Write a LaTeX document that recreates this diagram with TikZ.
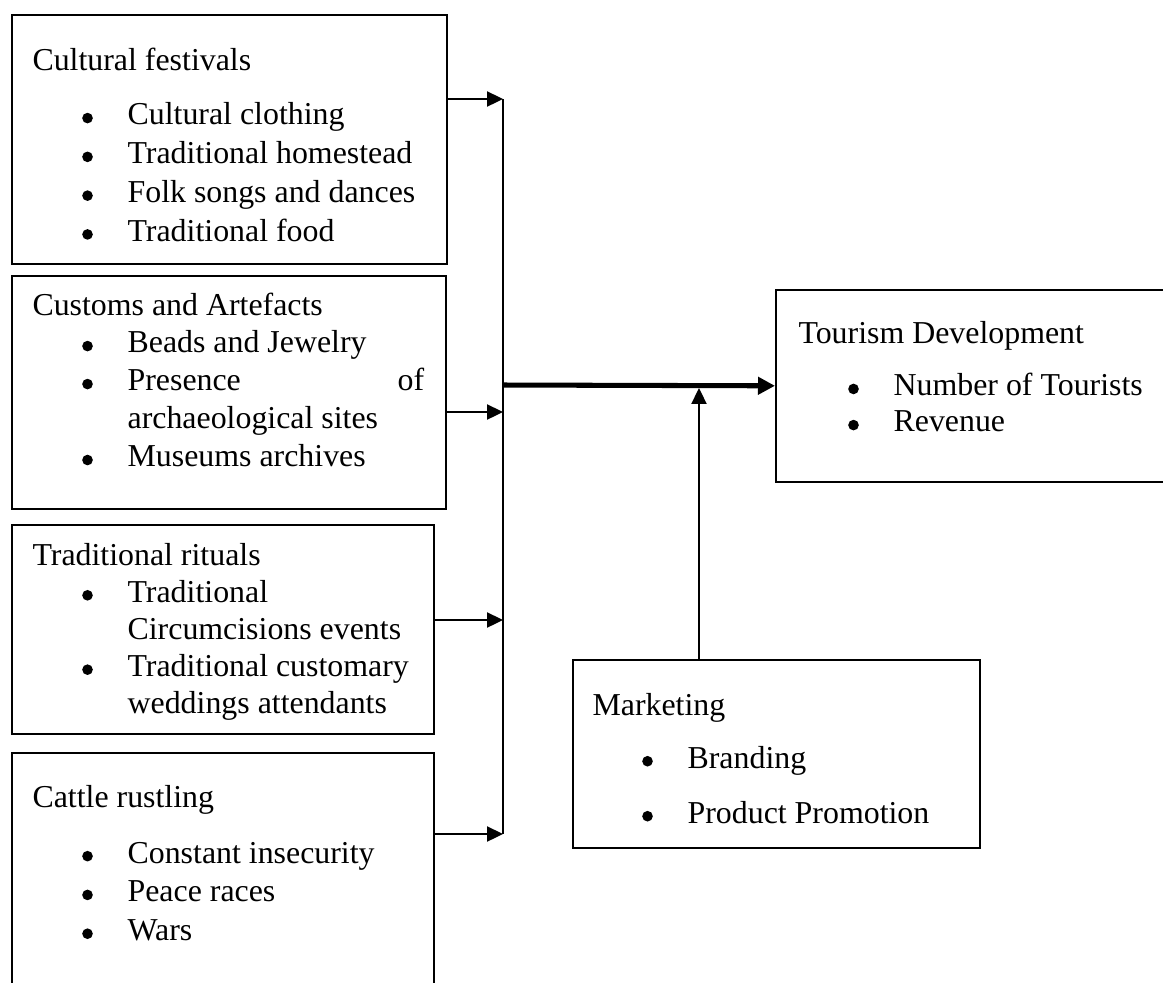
\documentclass[tikz,border=0pt]{standalone}
\usepackage{fontspec}
\usepackage{pict2e}
\setmainfont{Liberation Serif}
\usetikzlibrary{arrows.meta,positioning}
\newcommand{\pxu}{0.3765pt}
\newcommand{\dotmark}{{\setlength{\unitlength}{1pt}\begin{picture}(0,0)\put(0,2.6){\circle*{4}}\end{picture}}}
\newcommand{\bl}{\makebox[35.8pt][l]{\hspace{20.7pt}\dotmark}}
\newcommand{\cont}{\hspace*{35.8pt}}

\begin{document}
\begin{tikzpicture}[x=\pxu,y=-\pxu,
  box/.style={draw,line width=0.6pt,inner sep=0pt,anchor=north west},
  txt/.style={anchor=base west,inner sep=0pt,font=\fontsize{12}{14}\selectfont},
  arr/.style={line width=0.6pt,-{Triangle[length=6pt,width=5.7pt]}},
  main/.style={line width=1.9pt,-{Triangle[length=6.4pt,width=6.4pt]}}]
  \useasboundingbox (0,0) rectangle (1163,982);
  \clip (0,0) rectangle (1163,982);

  % input boxes
  \node[box,minimum width=435*\pxu,minimum height=249*\pxu] (fest) at (11,14) {};
  \node[txt,font=\fontsize{12}{14.6}\selectfont] (festtxt) at ([shift={(21,56)}]fest.north west)
    {\begin{tabular}[t]{@{}l@{}}Cultural festivals\\[6.1pt]
     \bl Cultural clothing\\ \bl Traditional homestead\\
     \bl Folk songs and dances\\ \bl Traditional food\end{tabular}};

  \node[box,minimum width=434*\pxu,minimum height=233*\pxu] (cust) at (11,275) {};
  \node[txt,font=\fontsize{12}{14.3}\selectfont] (custtxt) at ([shift={(21,40)}]cust.north west)
    {\begin{tabular}[t]{@{}l@{}}Customs and Artefacts\\
     \bl Beads and Jewelry\\ \bl\makebox[111.7pt][s]{Presence\hfill of}\\
     \cont archaeological sites\\ \bl Museums archives\end{tabular}};

  \node[box,minimum width=422*\pxu,minimum height=209*\pxu] (rit) at (11,524) {};
  \node[txt] (rittxt) at ([shift={(21,41)}]rit.north west)
    {\begin{tabular}[t]{@{}l@{}}Traditional rituals\\
     \bl Traditional\\ \cont Circumcisions events\\
     \bl Traditional customary\\ \cont weddings attendants\end{tabular}};

  \node[box,minimum width=422*\pxu,minimum height=300*\pxu] (cat) at (11,752) {};
  \node[txt,font=\fontsize{12}{14.6}\selectfont] (cattxt) at ([shift={(21,55)}]cat.north west)
    {\begin{tabular}[t]{@{}l@{}}Cattle rustling\\[6.5pt]
     \bl Constant insecurity\\ \bl Peace races\\ \bl Wars\end{tabular}};

  % outcome and moderator
  \node[box,minimum width=420*\pxu,minimum height=192*\pxu] (tour) at (775,289) {};
  \node[txt,font=\fontsize{12}{13.6}\selectfont] (tourtxt) at ([shift={(23,54)}]tour.north west)
    {\begin{tabular}[t]{@{}l@{}}Tourism Development\\[6.3pt]
     \bl Number of Tourists\\ \bl Revenue\end{tabular}};

  \node[box,minimum width=407*\pxu,minimum height=188*\pxu] (mkt) at (572,659) {};
  \node[txt] (mkttxt) at ([shift={(20,56)}]mkt.north west)
    {\begin{tabular}[t]{@{}l@{}}Marketing\\[6pt]
     \bl Branding\\[6.7pt] \bl Product Promotion\end{tabular}};

  % connectors
  \coordinate (bustop) at (503,99);
  \coordinate (busbot) at (503,834);
  \coordinate (in2) at (503,412);
  \coordinate (in3) at (503,620);
  \coordinate (busmid) at (503,385);
  \coordinate (mkin) at (699,388);
  \draw[line width=0.6pt] (bustop) -- (busbot);
  \draw[arr] (fest.east |- bustop) -- (bustop);
  \draw[arr] (cust.east |- in2) -- (in2);
  \draw[arr] (rit.east |- in3) -- (in3);
  \draw[arr] (cat.east |- busbot) -- (busbot);
  \draw[main] (busmid) -- (tour.west);
  \draw[arr] (mkt.north -| mkin) -- (mkin);
\end{tikzpicture}
\end{document}
